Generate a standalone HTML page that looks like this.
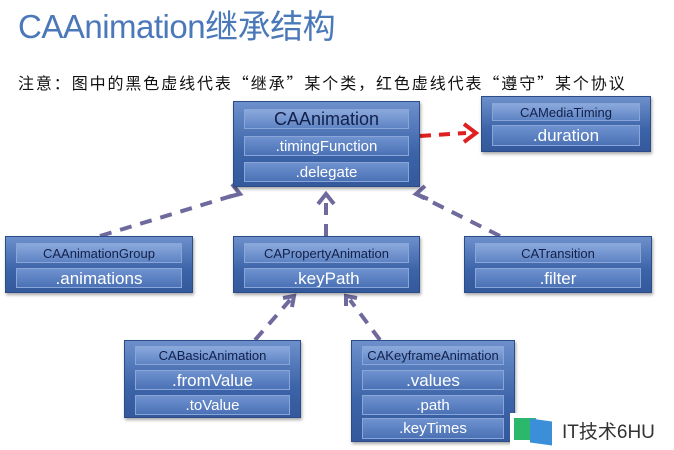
<!DOCTYPE html>
<html><head><meta charset="utf-8"><style>
body{margin:0;width:674px;height:450px;background:#fff;position:relative;overflow:hidden;font-family:"Liberation Sans","Noto Sans CJK SC",sans-serif}
.t{position:absolute;left:18px;top:0px;font-size:33px;color:#4a78b8;letter-spacing:-0.5px}
.n{position:absolute;left:18px;top:70px;font-size:16px;color:#111;letter-spacing:1.9px;font-family:"Noto Sans CJK SC",sans-serif;white-space:nowrap}
.b{position:absolute;background:linear-gradient(#6d90cc,#3c64a8 60%,#34599c);border:1px solid #2c4c88;box-shadow:1px 2px 3px rgba(0,0,0,.35);box-sizing:border-box}
.r{position:absolute;left:10px;right:10px;background:linear-gradient(#6f92cf,#4b72b6);border:1px solid #8aa6d8;box-sizing:border-box;text-align:center;color:#fff;font-size:17px;white-space:nowrap;overflow:hidden}
.c{color:#12204a;font-size:13px;background:linear-gradient(#8aa8dc,#5f84c4)}
svg{position:absolute;left:0;top:0}
</style></head><body>
<div class="t">CAAnimation继承结构</div>
<div class="n">注意：图中的黑色虚线代表“继承”某个类，红色虚线代表“遵守”某个协议</div>
<svg width="674" height="450">
<g stroke="#6e6a9e" stroke-width="4" stroke-dasharray="12,9" fill="none">
<line x1="100" y1="236" x2="238" y2="194"/>
<line x1="326" y1="236" x2="326" y2="195"/>
<line x1="500" y1="236" x2="416" y2="194"/>
<line x1="255" y1="340" x2="290" y2="300"/>
<line x1="380" y1="340" x2="350" y2="300"/>
</g>
<g stroke="#6e6a9e" stroke-width="4" fill="none">
<polyline points="232,184 240,194 228,197"/>
<polyline points="318,204 326,194 334,204"/>
<polyline points="425,186 416,194 428,199"/>
<polyline points="283,298 294,296 292,307"/>
<polyline points="346,306 346,296 357,298"/>
</g>
<line x1="420" y1="136" x2="466" y2="133" stroke="#e02020" stroke-width="4" stroke-dasharray="11,8"/>
<polyline points="464,124 476,133 464,142" stroke="#e02020" stroke-width="4" fill="none"/>
</svg>
<div class="b" style="left:233px;top:101px;width:187px;height:86px">
<div class="r c" style="top:7px;height:20px;font-size:18px;line-height:19px">CAAnimation</div>
<div class="r" style="top:34px;height:20px;font-size:15px;line-height:19px">.timingFunction</div>
<div class="r" style="top:60px;height:20px;font-size:15px;line-height:19px">.delegate</div>
</div>
<div class="b" style="left:481px;top:96px;width:170px;height:56px">
<div class="r c" style="top:6px;height:18px;line-height:17px">CAMediaTiming</div>
<div class="r" style="top:28px;height:21px;line-height:20px">.duration</div>
</div>
<div class="b" style="left:5px;top:236px;width:188px;height:57px">
<div class="r c" style="top:6px;height:20px;line-height:19px">CAAnimationGroup</div>
<div class="r" style="top:31px;height:20px;line-height:19px">.animations</div>
</div>
<div class="b" style="left:233px;top:236px;width:187px;height:57px">
<div class="r c" style="top:6px;height:20px;line-height:19px">CAPropertyAnimation</div>
<div class="r" style="top:31px;height:20px;line-height:19px">.keyPath</div>
</div>
<div class="b" style="left:464px;top:236px;width:188px;height:57px">
<div class="r c" style="top:6px;height:20px;line-height:19px">CATransition</div>
<div class="r" style="top:31px;height:20px;line-height:19px">.filter</div>
</div>
<div class="b" style="left:124px;top:340px;width:177px;height:78px">
<div class="r c" style="top:5px;height:19px;line-height:18px">CABasicAnimation</div>
<div class="r" style="top:29px;height:20px;line-height:19px">.fromValue</div>
<div class="r" style="top:54px;height:20px;font-size:15px;line-height:19px">.toValue</div>
</div>
<div class="b" style="left:351px;top:340px;width:164px;height:102px">
<div class="r c" style="top:5px;height:19px;line-height:18px">CAKeyframeAnimation</div>
<div class="r" style="top:29px;height:20px;line-height:19px">.values</div>
<div class="r" style="top:54px;height:20px;font-size:15px;line-height:19px">.path</div>
<div class="r" style="top:77px;height:21px;font-size:15px;line-height:20px">.keyTimes</div>
</div>
<div style="position:absolute;left:510px;top:413px;width:164px;height:34px;background:#fff"></div>
<div style="position:absolute;left:514px;top:418px;width:22px;height:22px;background:#2cb86a"></div>
<div style="position:absolute;left:530px;top:420px;width:22px;height:24px;background:#3b8fd8;transform:skewY(8deg)"></div>
<div style="position:absolute;left:562px;top:417px;font-size:19px;color:#333">IT技术6HU</div>
</body></html>
